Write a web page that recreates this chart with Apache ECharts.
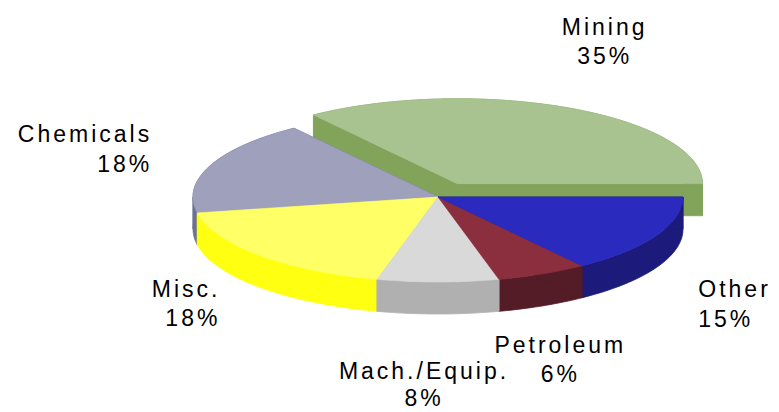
<!DOCTYPE html>
<html>
<head>
<meta charset="utf-8">
<script src="https://cdn.jsdelivr.net/npm/echarts/dist/echarts.min.js"></script>
<style>
html, body { margin: 0; padding: 0; background: #ffffff; }
#chart { width: 779px; height: 412px; }
#chart text { letter-spacing: 3px; }
</style>
</head>
<body>
<div id="chart"></div>
<script>
// ---- data ----
const categories = ['Mining', 'Chemicals', 'Misc.', 'Mach./Equip.', 'Petroleum', 'Other'];
const values = [35, 18, 18, 8, 6, 15];

// ---- styling / layout (kept separate from the data) ----
const topColors  = ['#a8c290', '#9ea0bc', '#ffff66', '#d9d9d9', '#8b2e3e', '#2a2abf'];
const sideColors = ['#82a35a', '#6e7094', '#ffff11', '#b0b0b0', '#541c27', '#1c1a7a'];
const explode    = [0.175, 0, 0, 0, 0, 0];
// label offset from the slice's rim anchor, text alignment and line height
const labelLayout = [
  { dx: 36,  dy: -67, align: 'center', lh: 29 },
  { dx: -58, dy: -17, align: 'right',  lh: 30 },
  { dx: -39, dy: 16,  align: 'right',  lh: 29 },
  { dx: -14, dy: 70,  align: 'center', lh: 27 },
  { dx: 18,  dy: 54,  align: 'center', lh: 29 },
  { dx: 42,  dy: 36,  align: 'left',   lh: 30 }
];
const GEOM = { cx: 438, cy: 197, rx: 245, ry: 85, depth: 32, startAngle: 0 };

const total = values.reduce((a, b) => a + b, 0);
const starts = [];
(function () { let acc = 0; values.forEach(v => { starts.push(acc); acc += v; }); })();

function pt(cx, cy, deg) {
  const r = deg * Math.PI / 180;
  return [cx + GEOM.rx * Math.cos(r), cy - GEOM.ry * Math.sin(r)];
}

function renderItem(params, api) {
  const i = params.dataIndex;
  const v = api.value(0);
  const a1 = GEOM.startAngle + starts[i] / total * 360;
  const a2 = a1 + v / total * 360;
  const midDeg = (a1 + a2) / 2;
  const mid = midDeg * Math.PI / 180;
  const ex = explode[i];
  const cx = GEOM.cx + ex * GEOM.rx * Math.cos(mid);
  const cy = GEOM.cy - ex * GEOM.ry * Math.sin(mid);
  const d = GEOM.depth;
  const side = sideColors[i], top = topColors[i];

  const sideZ = ex > 0 ? 0 : 10 + Math.round((1 - Math.sin(mid)) * 100);
  const topZ = ex > 0 ? 1 : 500;

  const children = [];
  const sideStyle = { fill: side, stroke: side, lineWidth: 0.8 };

  // outer band, split into x-monotone pieces at 180/360
  const cuts = [a1];
  [180, 360, 540].forEach(c => { if (c > a1 && c < a2) cuts.push(c); });
  cuts.push(a2);
  for (let k = 0; k < cuts.length - 1; k++) {
    const s = cuts[k], e = cuts[k + 1];
    const n = Math.max(2, Math.ceil(e - s));
    const topArc = [], botArc = [];
    for (let j = 0; j <= n; j++) {
      const p = pt(cx, cy, s + (e - s) * j / n);
      topArc.push(p);
      botArc.push([p[0], p[1] + d]);
    }
    children.push({ type: 'polygon', z2: sideZ, shape: { points: topArc.concat(botArc.reverse()) }, style: sideStyle });
  }
  // radial faces
  [a1, a2].forEach(a => {
    const p = pt(cx, cy, a);
    children.push({ type: 'polygon', z2: sideZ, shape: { points: [[cx, cy], p, [p[0], p[1] + d], [cx, cy + d]] }, style: sideStyle });
  });
  // top face
  const n = Math.max(2, Math.ceil(a2 - a1));
  const topPts = [[cx, cy]];
  for (let j = 0; j <= n; j++) topPts.push(pt(cx, cy, a1 + (a2 - a1) * j / n));
  children.push({ type: 'polygon', z2: topZ, shape: { points: topPts }, style: { fill: top, stroke: top, lineWidth: 0.6 } });

  // label
  const anchor = pt(cx, cy, midDeg);
  if (Math.sin(mid) < 0) anchor[1] += d;
  const L = labelLayout[i];
  children.push({
    type: 'text', z2: 600,
    style: {
      text: categories[i] + '\n' + Math.round(v / total * 100) + '%',
      x: anchor[0] + L.dx, y: anchor[1] + L.dy,
      align: L.align, verticalAlign: 'middle',
      font: '23px "Liberation Sans", Arial, sans-serif',
      lineHeight: L.lh, fill: '#000000'
    }
  });
  return { type: 'group', children: children };
}

const chart = echarts.init(document.getElementById('chart'), null, { renderer: 'svg' });
chart.setOption({
  animation: false,
  backgroundColor: '#ffffff',
  series: [{
    type: 'custom',
    coordinateSystem: 'none',
    renderItem: renderItem,
    data: values.map((v, i) => ({ name: categories[i], value: [v] }))
  }]
});
</script>
</body>
</html>
